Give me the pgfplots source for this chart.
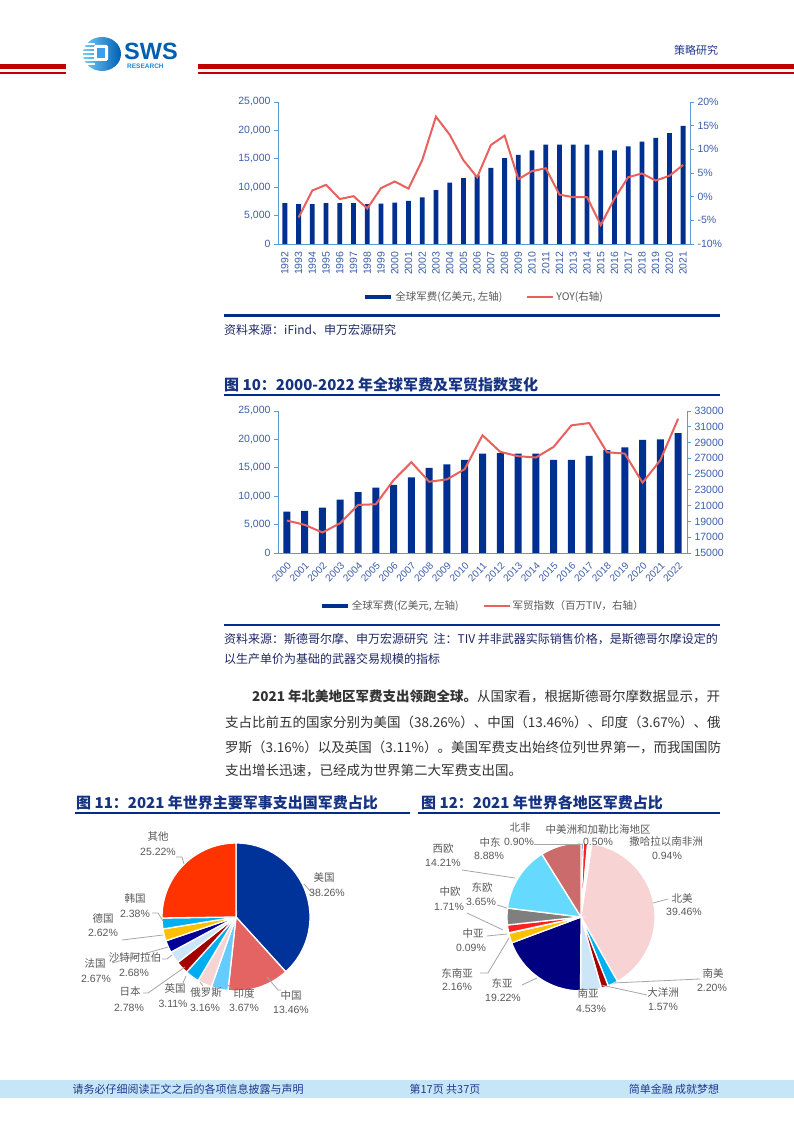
\documentclass[border=0pt]{standalone}
\usepackage{pgfplots}
\pgfplotsset{compat=1.18}
\usepackage{pgfplotstable}
\usepackage{fontspec}
\setmainfont{Noto Sans CJK SC}
\newfontfamily\arial{Liberation Sans}
\definecolor{barblue}{RGB}{0,48,143}
\definecolor{linered}{RGB}{232,97,95}
\definecolor{axisblue}{RGB}{91,155,213}
\definecolor{tickc}{RGB}{60,95,170}
\definecolor{titleblue}{RGB}{22,50,130}
\definecolor{ruleblue}{RGB}{0,45,140}
\definecolor{hdrred}{RGB}{192,0,0}
\definecolor{band}{RGB}{198,230,248}
\definecolor{foot}{RGB}{31,56,140}
\definecolor{bodyc}{RGB}{51,51,51}
\definecolor{srcc}{RGB}{30,40,100}
\definecolor{lblc}{RGB}{89,89,89}
\definecolor{leadc}{RGB}{166,166,166}
\definecolor{logoL}{RGB}{120,205,245}
\definecolor{logoR}{RGB}{0,95,180}
\definecolor{logoIn}{RGB}{60,160,230}
\definecolor{swsc}{RGB}{0,95,175}
\definecolor{resc}{RGB}{30,140,210}
% pie colours
\definecolor{pA}{RGB}{0,51,153}
\definecolor{pB}{RGB}{228,99,99}
\definecolor{pC}{RGB}{102,204,255}
\definecolor{pD}{RGB}{248,211,211}
\definecolor{pE}{RGB}{0,174,239}
\definecolor{pF}{RGB}{165,0,0}
\definecolor{pG}{RGB}{204,230,247}
\definecolor{pH}{RGB}{0,0,150}
\definecolor{pI}{RGB}{255,192,0}
\definecolor{pJ}{RGB}{0,176,240}
\definecolor{pK}{RGB}{255,51,0}
\definecolor{qA}{RGB}{0,51,204}
\definecolor{qB}{RGB}{255,32,32}
\definecolor{qN}{RGB}{0,0,128}
\definecolor{qG}{RGB}{127,127,127}
\definecolor{qW}{RGB}{102,217,255}
\definecolor{qM}{RGB}{204,107,107}

\pgfplotstableread{
year val
1992 7200
1993 7000
1994 7000
1995 7200
1996 7200
1997 7200
1998 7000
1999 7100
2000 7300
2001 7600
2002 8200
2003 9500
2004 10800
2005 11600
2006 12100
2007 13400
2008 15100
2009 15700
2010 16500
2011 17500
2012 17500
2013 17500
2014 17500
2015 16500
2016 16500
2017 17200
2018 18000
2019 18700
2020 19500
2021 20800
}\spendA
\pgfplotstableread{
year yoy
1993 -4.4
1994 1.3
1995 2.5
1996 -0.5
1997 0.1
1998 -2.5
1999 1.8
2000 3.2
2001 1.7
2002 7.7
2003 16.9
2004 13.1
2005 7.7
2006 4.1
2007 10.9
2008 12.9
2009 3.7
2010 5.4
2011 6.0
2012 0.4
2013 -0.1
2014 -0.1
2015 -6.0
2016 -0.4
2017 4.1
2018 4.9
2019 3.4
2020 4.4
2021 6.7
}\yoyA
\pgfplotstableread{
year val
2000 7300
2001 7400
2002 8000
2003 9400
2004 10700
2005 11500
2006 12000
2007 13300
2008 15000
2009 15600
2010 16400
2011 17500
2012 17600
2013 17500
2014 17500
2015 16400
2016 16400
2017 17100
2018 18100
2019 18600
2020 19900
2021 20000
2022 21100
}\spendB
\pgfplotstableread{
year tiv
2000 19120
2001 18570
2002 17600
2003 18780
2004 21090
2005 21180
2006 24240
2007 26510
2008 24030
2009 24330
2010 25630
2011 29920
2012 27820
2013 27270
2014 27100
2015 28450
2016 31180
2017 31470
2018 27770
2019 27600
2020 23910
2021 26760
2022 32020
}\tivB

\pgfplotsset{
  base/.style={scale only axis, width=#1, height=142pt,
    axis line style={axisblue, line width=0.8pt, -},
    tick align=outside, major tick length=4pt,
    ytick style={axisblue, line width=0.8pt}, xtick style={draw=none},
    ticklabel style={font=\arial\fontsize{10.5}{12}\selectfont, text=tickc,
      /pgf/number format/assume math mode=true},
    scaled y ticks=false},
  legsty/.style={legend style={at={(0.5,-0.373)}, anchor=center, draw=none, fill=none,
      legend columns=2, font=\fontsize{10.5}{12}\selectfont, text=lblc,
      /tikz/every even column/.append style={column sep=22pt}},
    legend image code/.code={\draw[##1] (0pt,0pt) -- (26pt,0pt);}},
}
% pie slice: start (percent), value (percent), colour
\newcommand\slice[3]{\fill[#3, draw=white, line width=1.3pt] (axis cs:0,0) -- ++({90-3.6*(#1)}:74pt) arc[start angle={90-3.6*(#1)}, end angle={90-3.6*(#1+#2)}, radius=74pt] -- cycle;}

\begin{document}
\begin{tikzpicture}
\path[use as bounding box, fill=white] (0pt,0pt) rectangle (794pt,1123pt);

% ---------- Chart 1 ----------
\begin{axis}[base=412pt, at={(278pt,879pt)}, anchor=south west,
  xmin=1991.5, xmax=2021.5, ymin=0, ymax=25000,
  axis y line*=left, axis x line*=bottom,
  ytick={0,5000,...,25000},
  yticklabel style={/pgf/number format/1000 sep={,}},
  xtick={1992,...,2021},
  xticklabel style={rotate=90, anchor=east, /pgf/number format/1000 sep={}},
  ybar, bar width=4.8pt]
\addplot[fill=barblue, draw=none] table[x=year, y=val] {\spendA};
\end{axis}
\begin{axis}[base=412pt, at={(278pt,879pt)}, anchor=south west, legsty,
  xmin=1991.5, xmax=2021.5, ymin=-10, ymax=20,
  axis y line*=right, axis x line=none,
  ytick={-10,-5,...,20},
  yticklabel={\pgfmathprintnumber{\tick}\%}]
\addlegendimage{barblue, line width=4.5pt}
\addlegendentry{全球军费(亿美元, 左轴)}
\addplot[linered, line width=2pt] table[x=year, y=yoy] {\yoyA};
\addlegendentry{YOY(右轴)}
\end{axis}

% ---------- Chart 2 ----------
\begin{axis}[base=409pt, at={(278pt,570pt)}, anchor=south west,
  xmin=1999.5, xmax=2022.5, ymin=0, ymax=25000,
  axis y line*=left, axis x line*=bottom,
  ytick={0,5000,...,25000},
  yticklabel style={/pgf/number format/1000 sep={,}},
  xtick={2000,...,2022},
  xticklabel style={rotate=45, anchor=north east, font=\arial\fontsize{10}{11}\selectfont, /pgf/number format/1000 sep={}},
  ybar, bar width=7pt]
\addplot[fill=barblue, draw=none] table[x=year, y=val] {\spendB};
\end{axis}
\begin{axis}[base=409pt, at={(278pt,570pt)}, anchor=south west, legsty,
  xmin=1999.5, xmax=2022.5, ymin=15000, ymax=33000,
  axis y line*=right, axis x line=none,
  ytick={15000,17000,...,33000},
  yticklabel style={/pgf/number format/1000 sep={}}]
\addlegendimage{barblue, line width=4.5pt}
\addlegendentry{全球军费(亿美元, 左轴)}
\addplot[linered, line width=2pt] table[x=year, y=tiv] {\tivB};
\addlegendentry{军贸指数（百万TIV，右轴）}
\end{axis}

% ---------- Pie 1 ----------
\begin{axis}[at={(236pt,206pt)}, anchor=center, scale only axis, width=148pt, height=148pt,
  xmin=-1, xmax=1, ymin=-1, ymax=1, hide axis, clip=false]
\slice{0}{38.26}{pA}
\slice{38.26}{13.46}{pB}
\slice{51.72}{3.67}{pC}
\slice{55.39}{3.16}{pD}
\slice{58.55}{3.11}{pE}
\slice{61.66}{2.78}{pF}
\slice{64.44}{2.68}{pG}
\slice{67.12}{2.67}{pH}
\slice{69.79}{2.62}{pI}
\slice{72.41}{2.38}{pJ}
\slice{74.79}{25.22}{pK}
\end{axis}

% ---------- Pie 2 ----------
\begin{axis}[at={(581pt,206pt)}, anchor=center, scale only axis, width=148pt, height=148pt,
  xmin=-1, xmax=1, ymin=-1, ymax=1, hide axis, clip=false]
\slice{0}{0.50}{qA}
\slice{0.50}{0.94}{qB}
\slice{1.44}{0.90}{white}
\slice{2.34}{39.46}{pD}
\slice{41.80}{2.20}{pJ}
\slice{44.00}{1.57}{pF}
\slice{45.57}{4.53}{pG}
\slice{50.10}{19.22}{qN}
\slice{69.32}{2.16}{pI}
\slice{71.48}{0.09}{pB}
\slice{71.57}{1.71}{qB}
\slice{73.28}{3.65}{qG}
\slice{76.93}{14.21}{qW}
\slice{91.14}{8.88}{qM}
\end{axis}

% ---------- page furniture (pixel coordinates, y downward) ----------
\begin{scope}[x=1pt, y=-1pt, shift={(0pt,1123pt)}]
% header
\fill[hdrred] (0,64.5) rectangle (66,69.5);
\fill[hdrred] (0,72) rectangle (66,74);
\fill[hdrred] (198,64.5) rectangle (794,69.5);
\fill[hdrred] (198,72) rectangle (794,74);
\shade[left color=logoL, right color=logoR] (102,54) ellipse [x radius=19, y radius=17];
\foreach \yy in {44,48,52,56,60,64} \draw[white, line width=1.3pt] (83,\yy) -- (95,\yy);
\fill[white, rounded corners=1.5pt] (94,45) rectangle (108,61);
\fill[logoIn] (97,48) rectangle (105,58);
\node[anchor=west, inner sep=0pt, font=\arial\bfseries\fontsize{23.5}{24}\selectfont, text=swsc] at (124,51.5) {SWS};
\node[anchor=west, inner sep=0pt, font=\arial\bfseries\fontsize{6.5}{7}\selectfont, text=resc] at (127,66) {RESEARCH};
\node[anchor=center, inner sep=0pt, font=\fontsize{11}{12}\selectfont, text=foot] at (696,50) {策略研究};

% chart 1 source
\draw[ruleblue, line width=2.5pt] (224,315.5) -- (720,315.5);
\node[anchor=west, inner sep=0pt, font=\fontsize{12}{14}\selectfont, text=srcc] at (224,330) {资料来源：iFind、申万宏源研究};

% chart 2 title
\node[anchor=west, inner sep=0pt, font=\bfseries\fontsize{15}{17}\selectfont, text=titleblue] at (224,385) {图 10：2000-2022 年全球军费及军贸指数变化};
\draw[ruleblue, line width=2.5pt] (224,395) -- (720,395);
\draw[ruleblue, line width=2.5pt] (224,625) -- (720,625);
\node[anchor=west, inner sep=0pt, font=\fontsize{12}{14}\selectfont, text=srcc] at (224,639) {资料来源：斯德哥尔摩、申万宏源研究 \ 注：TIV 并非武器实际销售价格，是斯德哥尔摩设定的};
\node[anchor=west, inner sep=0pt, font=\fontsize{12}{14}\selectfont, text=srcc] at (224,659) {以生产单价为基础的武器交易规模的指标};

% body text
\begin{scope}[every node/.style={anchor=west, inner sep=0pt, font=\fontsize{13.5}{16}\selectfont, text=bodyc}]
\node at (252,696) {{\bfseries 2021 年北美地区军费支出领跑全球。}从国家看，根据斯德哥尔摩数据显示，开};
\node at (225,722) {支占比前五的国家分别为美国（38.26\%）、中国（13.46\%）、印度（3.67\%）、俄};
\node at (225,747) {罗斯（3.16\%）以及英国（3.11\%）。美国军费支出始终位列世界第一，而我国国防};
\node at (225,771) {支出增长迅速，已经成为世界第二大军费支出国。};
\end{scope}

% figure 11/12 titles
\node[anchor=west, inner sep=0pt, font=\bfseries\fontsize{15}{17}\selectfont, text=titleblue] at (76,803) {图 11：2021 年世界主要军事支出国军费占比};
\draw[ruleblue, line width=2.5pt] (75,813) -- (410,813);
\node[anchor=west, inner sep=0pt, font=\bfseries\fontsize{15}{17}\selectfont, text=titleblue] at (421,803) {图 12：2021 年世界各地区军费占比};
\draw[ruleblue, line width=2.5pt] (418,813) -- (720,813);

% leader lines
\begin{scope}[leadc, line width=0.8pt]
\draw (176,857) -- (182,857) -- (184,864);
\draw (304,884) -- (312,893) -- (316,893);
\draw (267,977) -- (278,990) -- (281,990);
\draw (228,985) -- (231,989);
\draw (200,982) -- (203,986);
\draw (186,976) -- (183,983);
\draw (185,967) -- (148,993) -- (143,993);
\draw (172,955) -- (167,959) -- (162,959);
\draw (168,947) -- (112,963);
\draw (163,935) -- (122,940);
\draw (152,913) -- (158,913) -- (163,921);
\draw (534,844) -- (582,844);
\draw (462,870) -- (515,878);
\draw (653,903) -- (668,899);
\draw (497,905) -- (507,908);
\draw (467,913) -- (503,930);
\draw (487,936) -- (507,934);
\draw (480,973) -- (488,973) -- (509,938);
\draw (522,985) -- (537,978);
\draw (601,985) -- (647,995);
\draw (613,983) -- (700,979);
\end{scope}

% pie labels
\begin{scope}[every node/.style={inner sep=0pt, text=lblc}]
\node[font=\fontsize{10.5}{12}\selectfont] at (158,837) {其他};
\node[font=\arial\fontsize{10.5}{12}\selectfont] at (158,852) {25.22\%};
\node[font=\fontsize{10.5}{12}\selectfont] at (324,877) {美国};
\node[font=\arial\fontsize{10.5}{12}\selectfont] at (327,893) {38.26\%};
\node[font=\fontsize{10.5}{12}\selectfont] at (135,899) {韩国};
\node[font=\arial\fontsize{10.5}{12}\selectfont] at (135,914) {2.38\%};
\node[font=\fontsize{10.5}{12}\selectfont] at (103,918) {德国};
\node[font=\arial\fontsize{10.5}{12}\selectfont] at (103,933) {2.62\%};
\node[font=\fontsize{10.5}{12}\selectfont] at (135,958) {沙特阿拉伯};
\node[font=\arial\fontsize{10.5}{12}\selectfont] at (134,973) {2.68\%};
\node[font=\fontsize{10.5}{12}\selectfont] at (95,964) {法国};
\node[font=\arial\fontsize{10.5}{12}\selectfont] at (96,979) {2.67\%};
\node[font=\fontsize{10.5}{12}\selectfont] at (130,992) {日本};
\node[font=\arial\fontsize{10.5}{12}\selectfont] at (129,1008) {2.78\%};
\node[font=\fontsize{10.5}{12}\selectfont] at (175,989) {英国};
\node[font=\arial\fontsize{10.5}{12}\selectfont] at (173,1004) {3.11\%};
\node[font=\fontsize{10.5}{12}\selectfont] at (206,993) {俄罗斯};
\node[font=\arial\fontsize{10.5}{12}\selectfont] at (205,1008) {3.16\%};
\node[font=\fontsize{10.5}{12}\selectfont] at (244,993) {印度};
\node[font=\arial\fontsize{10.5}{12}\selectfont] at (244,1008) {3.67\%};
\node[font=\fontsize{10.5}{12}\selectfont] at (291,996) {中国};
\node[font=\arial\fontsize{10.5}{12}\selectfont] at (291,1010) {13.46\%};
\node[font=\fontsize{10.5}{12}\selectfont] at (520,828) {北非};
\node[font=\arial\fontsize{10.5}{12}\selectfont] at (519,842) {0.90\%};
\node[font=\fontsize{10.5}{12}\selectfont] at (490,842) {中东};
\node[font=\arial\fontsize{10.5}{12}\selectfont] at (489,856) {8.88\%};
\node[font=\fontsize{10.5}{12}\selectfont] at (598,829) {中美洲和加勒比海地区};
\node[font=\arial\fontsize{10.5}{12}\selectfont] at (598,842) {0.50\%};
\node[font=\fontsize{10.5}{12}\selectfont] at (666,842) {撒哈拉以南非洲};
\node[font=\arial\fontsize{10.5}{12}\selectfont] at (667,856) {0.94\%};
\node[font=\fontsize{10.5}{12}\selectfont] at (443,849) {西欧};
\node[font=\arial\fontsize{10.5}{12}\selectfont] at (443,863) {14.21\%};
\node[font=\fontsize{10.5}{12}\selectfont] at (682,898) {北美};
\node[font=\arial\fontsize{10.5}{12}\selectfont] at (684,912) {39.46\%};
\node[font=\fontsize{10.5}{12}\selectfont] at (450,892) {中欧};
\node[font=\arial\fontsize{10.5}{12}\selectfont] at (449,907) {1.71\%};
\node[font=\fontsize{10.5}{12}\selectfont] at (482,888) {东欧};
\node[font=\arial\fontsize{10.5}{12}\selectfont] at (481,902) {3.65\%};
\node[font=\fontsize{10.5}{12}\selectfont] at (473,934) {中亚};
\node[font=\arial\fontsize{10.5}{12}\selectfont] at (471,948) {0.09\%};
\node[font=\fontsize{10.5}{12}\selectfont] at (457,973) {东南亚};
\node[font=\arial\fontsize{10.5}{12}\selectfont] at (457,987) {2.16\%};
\node[font=\fontsize{10.5}{12}\selectfont] at (502,983) {东亚};
\node[font=\arial\fontsize{10.5}{12}\selectfont] at (503,998) {19.22\%};
\node[font=\fontsize{10.5}{12}\selectfont] at (588,994) {南亚};
\node[font=\arial\fontsize{10.5}{12}\selectfont] at (591,1009) {4.53\%};
\node[font=\fontsize{10.5}{12}\selectfont] at (663,992) {大洋洲};
\node[font=\arial\fontsize{10.5}{12}\selectfont] at (663,1007) {1.57\%};
\node[font=\fontsize{10.5}{12}\selectfont] at (713,973) {南美};
\node[font=\arial\fontsize{10.5}{12}\selectfont] at (712,988) {2.20\%};
\end{scope}

% footer
\fill[band] (0,1080) rectangle (794,1098);
\node[inner sep=0pt, font=\fontsize{11}{12}\selectfont, text=foot] at (188,1089) {请务必仔细阅读正文之后的各项信息披露与声明};
\node[inner sep=0pt, font=\fontsize{11}{12}\selectfont, text=foot] at (445,1089) {第17页 共37页};
\node[inner sep=0pt, font=\fontsize{11}{12}\selectfont, text=foot] at (674,1089) {简单金融 成就梦想};
\end{scope}
\end{tikzpicture}
\end{document}
